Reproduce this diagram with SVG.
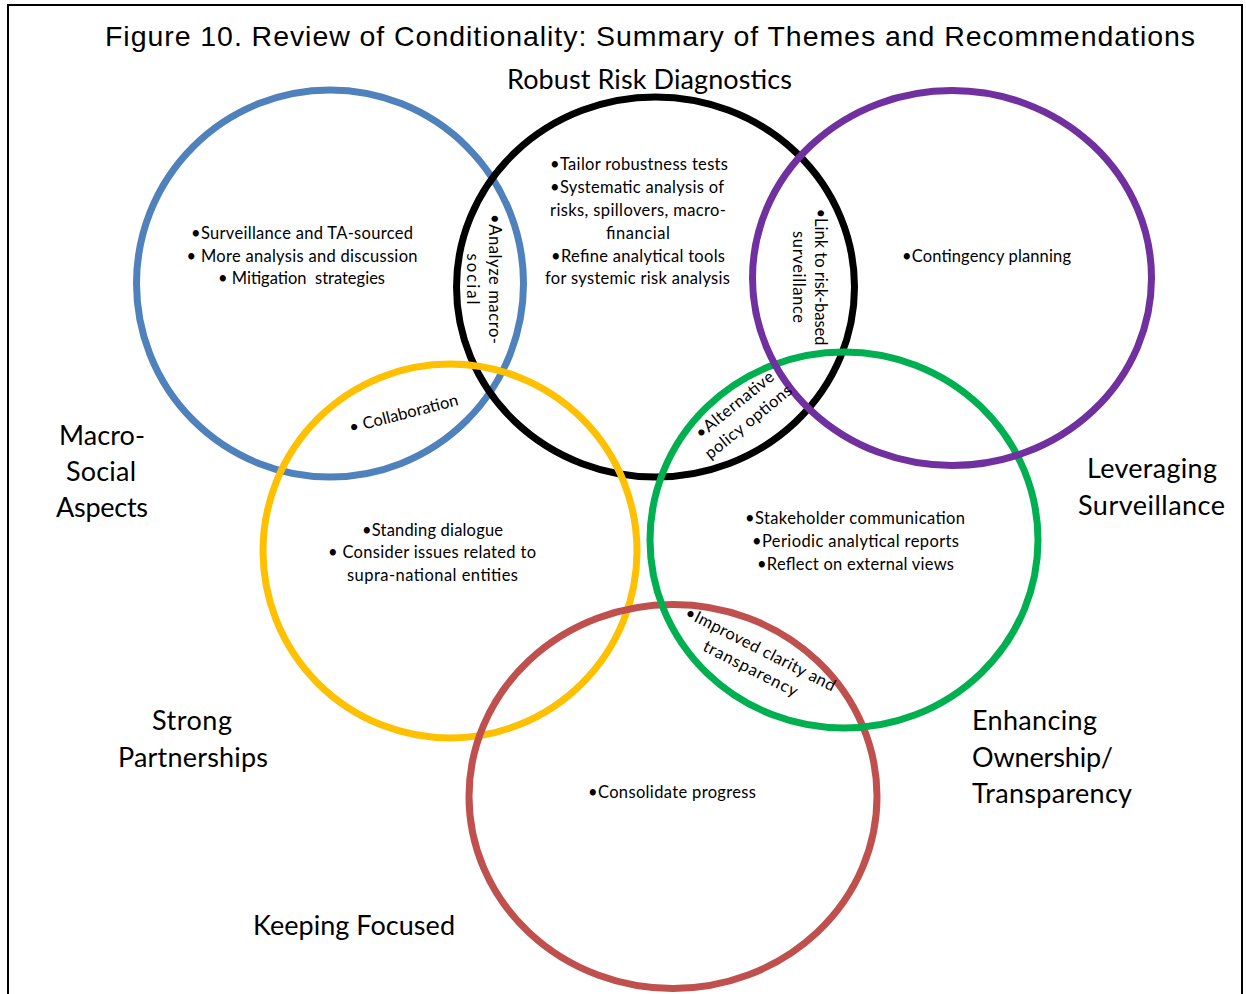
<svg xmlns="http://www.w3.org/2000/svg" width="1246" height="994" viewBox="0 0 1246 994">
  <style>
    .ring { fill: none; stroke-width: 7; }
    .title { font-family: "Liberation Sans", Arial, sans-serif; font-size: 28.5px; fill: #000; }
    .theme { font-family: Lato, "Noto Sans", sans-serif; font-size: 27px; fill: #000; }
    .item { font-family: Lato, "Noto Sans", sans-serif; font-size: 16.5px; fill: #000; }
    .mid { text-anchor: middle; }
    .frame { stroke: #000; stroke-width: 2; fill: none; }
  </style>

  <rect width="1246" height="994" fill="#fff"/>

  <!-- frame -->
  <g id="frame">
    <line class="frame" x1="8" y1="5" x2="1242" y2="5"/>
    <line class="frame" x1="8" y1="4" x2="8" y2="994"/>
    <line class="frame" x1="1242" y1="4" x2="1242" y2="994"/>
  </g>

  <text id="title" class="title mid" x="650" y="46" textLength="1090">Figure 10. Review of Conditionality: Summary of Themes and Recommendations</text>

  <!-- theme rings -->
  <g id="macro-social">
    <ellipse class="ring" cx="330" cy="283.5" rx="193.5" ry="193.5" stroke="#4F81BD"/>
    <text class="item mid" x="302" y="239" textLength="222">•Surveillance and TA-sourced</text>
    <text class="item mid" x="302" y="262" textLength="231">• More analysis and discussion</text>
    <text class="item mid" x="301.5" y="284" textLength="167" xml:space="preserve">• Mitigation  strategies</text>
    <text class="theme mid" x="102" y="445" textLength="86">Macro-</text>
    <text class="theme mid" x="101" y="481" textLength="70">Social</text>
    <text class="theme mid" x="102" y="517" textLength="92">Aspects</text>
  </g>

  <g id="risk-diagnostics">
    <ellipse class="ring" cx="655.5" cy="287" rx="199" ry="190" stroke="#000"/>
    <text class="theme mid" x="649.5" y="89" textLength="285">Robust Risk Diagnostics</text>
    <text class="item mid" x="639" y="170" textLength="178">•Tailor robustness tests</text>
    <text class="item mid" x="637" y="193" textLength="174">•Systematic analysis of</text>
    <text class="item mid" x="638" y="216" textLength="176">risks, spillovers, macro-</text>
    <text class="item mid" x="638" y="239" textLength="64">financial</text>
    <text class="item mid" x="638" y="262" textLength="174">•Refine analytical tools</text>
    <text class="item mid" x="637.5" y="284" textLength="185">for systemic risk analysis</text>
  </g>

  <g id="partnerships">
    <ellipse class="ring" cx="450" cy="551" rx="187" ry="187" stroke="#FFC000"/>
    <text class="item mid" x="432.5" y="536" textLength="141">•Standing dialogue</text>
    <text class="item mid" x="432" y="558" textLength="208">• Consider issues related to</text>
    <text class="item mid" x="432.5" y="581" textLength="171">supra-national entities</text>
    <text class="theme mid" x="192" y="730" textLength="80">Strong</text>
    <text class="theme mid" x="193" y="767" textLength="150">Partnerships</text>
  </g>

  <g id="keeping-focused">
    <ellipse class="ring" cx="673" cy="796.5" rx="204" ry="192" stroke="#C0504D"/>
    <text class="item mid" x="672" y="798" textLength="168">•Consolidate progress</text>
    <text class="theme" x="253" y="935" textLength="202">Keeping Focused</text>
  </g>

  <g id="ownership-transparency">
    <ellipse class="ring" cx="844" cy="540" rx="194" ry="188" stroke="#00B050"/>
    <text class="item mid" x="855" y="524" textLength="220">•Stakeholder communication</text>
    <text class="item mid" x="855.5" y="547" textLength="207">•Periodic analytical reports</text>
    <text class="item mid" x="855.5" y="570" textLength="197">•Reflect on external views</text>
    <text class="theme" x="972" y="730" textLength="125">Enhancing</text>
    <text class="theme" x="972" y="767" textLength="141">Ownership/</text>
    <text class="theme" x="972" y="803" textLength="160">Transparency</text>
  </g>

  <g id="leveraging-surveillance">
    <ellipse class="ring" cx="952" cy="278" rx="199.5" ry="187.5" stroke="#7030A0"/>
    <text class="item mid" x="986.5" y="262" textLength="169">•Contingency planning</text>
    <text class="theme mid" x="1152" y="478" textLength="130">Leveraging</text>
    <text class="theme mid" x="1151.5" y="515" textLength="147">Surveillance</text>
  </g>

  <!-- overlap notes -->
  <g id="overlap-macro-risk" transform="translate(479 279) rotate(90)">
    <text class="item mid" x="0" y="-10" textLength="130">•Analyze macro-</text>
    <text class="item mid" x="0" y="12" textLength="51">social</text>
  </g>

  <g id="overlap-risk-surveillance" transform="translate(804 277) rotate(90)">
    <text class="item mid" x="0" y="-11" textLength="137">•Link to risk-based</text>
    <text class="item mid" x="0" y="11" textLength="92">surveillance</text>
  </g>

  <g id="overlap-macro-partnerships" transform="translate(405 419) rotate(-14.5)">
    <text class="item mid" x="0" y="0" textLength="112">• Collaboration</text>
  </g>

  <g id="overlap-risk-ownership" transform="translate(738 409) rotate(-39)">
    <text class="item mid" x="0" y="0" textLength="96">•Alternative</text>
    <text class="item mid" x="0" y="22" textLength="107">policy options</text>
  </g>

  <g id="overlap-ownership-focused" transform="translate(758 654) rotate(27)">
    <text class="item mid" x="0" y="0" textLength="166">•Improved clarity and</text>
    <text class="item mid" x="0" y="22" textLength="104">transparency</text>
  </g>
</svg>
